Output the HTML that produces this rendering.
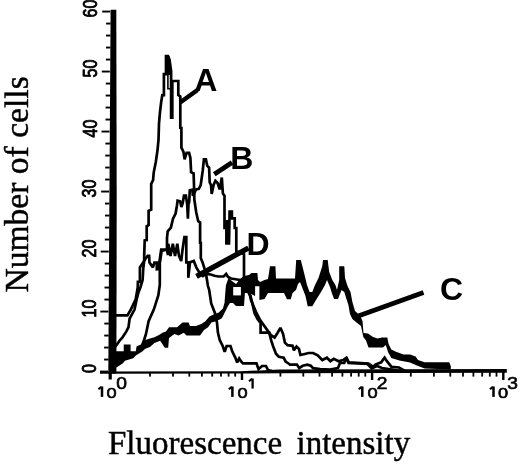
<!DOCTYPE html>
<html><head><meta charset="utf-8"><style>
html,body{margin:0;padding:0;background:#fff;}
svg{display:block;will-change:transform;}
</style></head><body>
<svg width="520" height="466" viewBox="0 0 520 466">
<polygon points="110.6,9.8 116.3,9.8 116.7,200 116.4,373.5 108.3,373.5" fill="#000"/>
<rect x="108.6" y="372" width="3.2" height="7.5" fill="#000"/>
<polygon points="100,371.6 240,371.3 280,369.6 506.8,368.9 506.8,372.8 280,373.2 240,373.5 100,373.7" fill="#000"/>
<rect x="100.0" y="370.6" width="8" height="1.9" fill="#000"/>
<rect x="104.1" y="358.6" width="4.5" height="1.9" fill="#000"/>
<rect x="104.1" y="346.6" width="4.5" height="1.9" fill="#000"/>
<rect x="104.2" y="334.6" width="4.5" height="1.9" fill="#000"/>
<rect x="104.3" y="322.6" width="4.5" height="1.9" fill="#000"/>
<rect x="100.4" y="310.6" width="8" height="1.9" fill="#000"/>
<rect x="104.4" y="298.6" width="4.5" height="1.9" fill="#000"/>
<rect x="104.5" y="286.6" width="4.5" height="1.9" fill="#000"/>
<rect x="104.6" y="274.6" width="4.5" height="1.9" fill="#000"/>
<rect x="104.7" y="262.6" width="4.5" height="1.9" fill="#000"/>
<rect x="100.7" y="250.6" width="8" height="1.9" fill="#000"/>
<rect x="104.8" y="238.6" width="4.5" height="1.9" fill="#000"/>
<rect x="104.9" y="226.6" width="4.5" height="1.9" fill="#000"/>
<rect x="105.0" y="214.6" width="4.5" height="1.9" fill="#000"/>
<rect x="105.0" y="202.6" width="4.5" height="1.9" fill="#000"/>
<rect x="101.1" y="190.6" width="8" height="1.9" fill="#000"/>
<rect x="105.2" y="178.6" width="4.5" height="1.9" fill="#000"/>
<rect x="105.2" y="166.6" width="4.5" height="1.9" fill="#000"/>
<rect x="105.3" y="154.6" width="4.5" height="1.9" fill="#000"/>
<rect x="105.4" y="142.6" width="4.5" height="1.9" fill="#000"/>
<rect x="101.5" y="130.6" width="8" height="1.9" fill="#000"/>
<rect x="105.5" y="118.6" width="4.5" height="1.9" fill="#000"/>
<rect x="105.6" y="106.6" width="4.5" height="1.9" fill="#000"/>
<rect x="105.7" y="94.6" width="4.5" height="1.9" fill="#000"/>
<rect x="105.8" y="82.6" width="4.5" height="1.9" fill="#000"/>
<rect x="101.8" y="70.6" width="8" height="1.9" fill="#000"/>
<rect x="105.9" y="58.6" width="4.5" height="1.9" fill="#000"/>
<rect x="106.0" y="46.6" width="4.5" height="1.9" fill="#000"/>
<rect x="106.0" y="34.6" width="4.5" height="1.9" fill="#000"/>
<rect x="106.1" y="22.6" width="4.5" height="1.9" fill="#000"/>
<rect x="102.2" y="10.6" width="8" height="1.9" fill="#000"/>
<rect x="149.1" y="372" width="1.8" height="4.6" fill="#000"/>
<rect x="172.1" y="372" width="1.8" height="4.6" fill="#000"/>
<rect x="188.4" y="372" width="1.8" height="4.6" fill="#000"/>
<rect x="201.0" y="372" width="1.8" height="4.6" fill="#000"/>
<rect x="211.3" y="372" width="1.8" height="4.6" fill="#000"/>
<rect x="220.1" y="372" width="1.8" height="4.6" fill="#000"/>
<rect x="227.7" y="372" width="1.8" height="4.6" fill="#000"/>
<rect x="234.3" y="372" width="1.8" height="4.6" fill="#000"/>
<rect x="279.5" y="372" width="1.8" height="4.6" fill="#000"/>
<rect x="302.4" y="372" width="1.8" height="4.6" fill="#000"/>
<rect x="318.6" y="372" width="1.8" height="4.6" fill="#000"/>
<rect x="331.2" y="372" width="1.8" height="4.6" fill="#000"/>
<rect x="341.5" y="372" width="1.8" height="4.6" fill="#000"/>
<rect x="350.2" y="372" width="1.8" height="4.6" fill="#000"/>
<rect x="357.8" y="372" width="1.8" height="4.6" fill="#000"/>
<rect x="364.4" y="372" width="1.8" height="4.6" fill="#000"/>
<rect x="409.9" y="372" width="1.8" height="4.6" fill="#000"/>
<rect x="433.0" y="372" width="1.8" height="4.6" fill="#000"/>
<rect x="449.4" y="372" width="1.8" height="4.6" fill="#000"/>
<rect x="462.1" y="372" width="1.8" height="4.6" fill="#000"/>
<rect x="472.5" y="372" width="1.8" height="4.6" fill="#000"/>
<rect x="481.3" y="372" width="1.8" height="4.6" fill="#000"/>
<rect x="488.9" y="372" width="1.8" height="4.6" fill="#000"/>
<rect x="495.6" y="372" width="1.8" height="4.6" fill="#000"/>
<rect x="240.8" y="372" width="2.4" height="8" fill="#000"/>
<rect x="370.9" y="372" width="2.4" height="8" fill="#000"/>
<rect x="502.1" y="372" width="2.4" height="8" fill="#000"/>
<polygon points="114.0,351.3 123.7,351.3 123.7,344.4 130.6,344.4 130.6,351.3 135.8,351.3 136.6,346.2 140.9,344.4 144.3,340.2 150.0,338.4 154.4,337.3 159.0,335.0 162.5,332.7 166.0,331.5 169.0,327.3 177.1,327.3 182.5,322.6 188.6,322.6 189.9,326.0 196.0,326.0 201.3,323.9 205.4,321.2 209.4,316.5 213.5,314.5 218.8,312.5 222.9,308.5 224.5,303.0 225.5,290.0 226.0,285.0 228.5,278.0 232.0,281.0 236.0,284.0 240.0,279.0 244.0,276.0 249.0,275.0 251.5,273.0 257.4,273.0 258.0,280.0 260.0,282.0 264.5,280.0 268.0,279.0 270.0,266.2 275.4,266.2 276.0,278.5 295.0,278.5 296.2,260.0 300.8,260.0 304.6,275.0 307.0,285.0 309.5,292.0 312.3,292.0 315.0,285.0 318.5,278.0 322.3,266.0 323.0,260.0 327.7,260.0 329.2,272.0 332.3,280.0 335.4,285.0 337.0,290.0 339.2,280.0 339.2,266.2 344.3,266.2 345.0,278.0 347.5,286.0 350.5,292.0 352.4,302.0 355.0,311.0 360.0,315.5 362.5,321.0 363.5,333.0 368.0,333.5 373.0,337.0 377.7,338.5 382.0,337.5 387.3,337.5 388.6,344.0 391.3,349.5 395.4,351.5 399.4,353.0 403.5,354.5 410.2,354.5 415.6,356.5 418.0,360.0 424.6,362.3 449.2,362.3 450.8,366.0 450.8,369.5 424.6,368.5 416.9,365.5 410.0,362.5 399.4,360.4 391.3,358.0 388.0,352.0 385.8,345.0 383.0,347.6 368.5,347.6 366.0,340.5 363.3,337.0 361.0,326.0 356.5,322.5 352.4,319.0 350.0,314.0 348.4,305.0 345.5,296.0 344.3,292.0 341.5,290.0 338.0,298.9 334.1,298.9 332.0,293.5 330.0,287.0 327.0,280.0 325.0,285.0 321.0,292.0 316.0,300.0 312.3,306.2 307.7,306.2 305.5,296.0 302.0,287.0 300.0,282.0 298.0,284.0 296.0,290.0 292.5,293.0 290.8,299.2 287.0,299.2 284.0,293.0 276.0,293.0 272.0,293.0 268.0,293.0 264.5,299.0 259.4,300.0 259.4,286.3 255.1,286.3 255.1,296.0 249.1,293.1 244.9,293.1 244.0,306.0 236.0,306.0 233.0,303.0 230.0,303.0 228.0,306.0 225.0,312.0 222.0,318.0 220.2,319.2 216.1,321.2 211.4,322.6 208.1,327.3 204.0,330.0 200.0,335.4 186.5,335.4 183.8,332.7 178.5,335.4 174.4,334.0 169.0,338.1 168.2,347.7 164.8,347.7 160.2,340.8 154.4,343.0 150.0,347.0 145.2,348.7 142.6,351.3 135.8,355.6 133.2,358.2 125.0,360.8 122.9,363.3 120.3,365.0 116.4,367.6 114.0,368.0" fill="#000"/>
<polygon points="233.2,287.0 240.9,287.0 240.9,295.4 233.2,295.4" fill="#fff"/>
<polyline points="115.0,347.0 118.0,343.0 120.0,340.0 122.1,337.9 124.2,334.7 126.4,331.4 128.5,327.2 129.6,318.6 134.5,309.6 136.5,300.0 138.3,292.9 140.5,287.0 142.6,280.0 143.3,268.0 144.2,260.6 144.2,256.0 144.7,240.3 146.7,240.0 146.7,226.3 148.6,225.0 148.6,210.9 151.2,209.6 151.2,183.9 153.1,180.0 153.7,172.6 155.8,162.0 157.5,150.3 158.5,140.0 159.0,123.5 160.0,112.0 161.2,102.0 162.3,95.2 163.9,95.2 163.9,74.2 166.0,74.2 166.0,56.1 168.0,56.1 169.5,59.7 171.1,71.0 171.1,117.7 172.3,117.7 172.3,81.0 178.3,81.0 178.3,95.0 180.3,96.5 180.3,127.8 181.4,128.0 181.4,147.7 183.4,151.6 184.6,159.3 186.6,152.9 189.1,152.9 190.4,158.0 191.1,172.2 193.6,173.4 194.3,194.0 194.3,199.3 196.2,212.2 198.2,221.2 200.1,222.5 200.1,242.9 200.8,243.0 200.8,258.3 202.5,262.2 205.8,272.9 207.9,285.8 209.2,290.0 211.2,303.5 215.0,313.2 217.0,322.8 217.9,332.5 219.8,340.2 222.7,346.0 224.7,351.8 226.6,346.0 230.5,346.0 232.4,351.8 235.3,357.6 237.2,362.4 239.2,358.5 241.1,361.4 243.0,363.4 256.5,363.4 258.5,369.2 262.0,366.0 266.0,366.0 268.0,370.0 272.0,371.0" fill="none" stroke="#000" stroke-width="2.7" stroke-linejoin="miter" stroke-miterlimit="2"/>
<polyline points="167.9,60.0 167.9,88.7 170.3,88.7" fill="none" stroke="#000" stroke-width="1.6" stroke-linejoin="miter" stroke-miterlimit="2"/>
<polygon points="165.8,56 169.4,56 170.4,62 171.8,75 165.8,75" fill="#000"/>
<polyline points="136.7,353.0 141.7,346.7 144.1,340.0 146.0,334.0 148.6,321.2 153.8,309.6 158.3,295.4 159.8,285.0 159.8,263.0 161.6,251.0 165.0,250.0 167.0,249.5 167.0,237.9 167.7,231.4 170.9,227.6 173.0,218.7 175.6,213.5 176.9,205.8 177.6,200.6 180.1,201.3 181.4,207.0 182.7,203.2 184.0,195.5 185.9,195.5 187.2,204.5 187.9,218.7 188.5,204.0 189.2,201.9 189.8,190.3 192.4,189.7 192.9,195.8 196.1,189.4 198.8,188.9 200.7,185.0 202.7,170.9 203.9,159.3 205.9,159.3 207.2,165.7 209.1,167.7 209.7,182.4 211.0,185.0 211.7,194.0 213.6,185.0 215.4,180.8 217.6,183.0 219.7,189.4 221.8,177.6 222.9,193.6 224.5,195.8 224.5,228.0 226.5,228.0 226.5,243.5 229.0,243.5 229.6,211.5 231.9,211.5 231.9,218.3 234.7,218.3 234.7,228.0 236.3,228.0 236.3,250.9 238.0,252.0 242.0,253.0 244.0,254.3 244.0,280.0 247.0,290.0 250.5,296.0 252.0,302.0 254.6,313.2 257.7,319.2 260.6,323.0 260.6,332.7 269.2,332.7 271.2,340.4 273.1,346.2 276.0,353.8 278.8,356.7 283.7,357.7 285.6,361.5 288.5,363.5 290.0,364.6 296.9,364.6 299.2,368.1 302.7,365.8 307.3,364.6 310.8,365.8 313.1,368.1 320.0,369.0 330.0,369.5 338.0,368.0 340.0,363.0 344.2,363.0 346.3,357.7 348.5,363.0 367.5,364.0 371.7,368.3 377.0,366.0 382.0,368.0 395.0,370.0 400.0,371.0" fill="none" stroke="#000" stroke-width="2.7" stroke-linejoin="miter" stroke-miterlimit="2"/>
<rect x="225.2" y="220" width="4.2" height="24" fill="#000"/>
<polyline points="115.0,315.4 127.4,315.4 130.6,310.0 135.7,299.3 137.7,287.7 137.9,281.9 139.9,281.9 139.9,267.4 143.5,262.0 144.2,260.6 147.6,255.8 149.1,255.8 149.5,262.6 152.9,267.4 154.4,262.6 156.8,262.6 156.8,269.3 159.2,269.0 159.2,263.5 161.2,249.5 166.8,249.5 168.0,255.0 168.3,243.7 170.5,255.9 172.8,243.7 175.0,255.9 177.3,243.7 179.0,256.0 181.2,261.0 182.5,250.0 184.4,237.2 186.3,237.2 186.3,262.3 188.3,262.3 188.3,277.8 190.0,262.2 193.8,260.9 196.3,267.3 199.0,272.0 203.0,276.0 206.2,273.9 210.7,274.5 214.6,275.8 218.5,276.5 223.6,276.5 226.2,274.0 228.0,277.0 231.0,278.5 240.0,280.0 246.0,285.0 249.5,293.0 251.0,300.0 253.5,306.0 255.8,311.5 259.6,319.2 270.7,334.9 274.6,337.5 277.5,333.0 280.4,327.8 283.0,333.6 284.9,342.6 287.5,345.2 292.6,345.8 293.9,350.3 296.5,346.5 299.0,349.0 300.4,355.0 303.8,354.2 308.5,353.0 313.1,353.0 317.7,355.4 322.3,360.0 326.9,357.7 330.4,361.2 333.8,358.8 338.5,361.2 343.1,360.0 346.5,357.7 348.8,362.3 368.5,363.5 373.1,366.9 375.4,364.6 381.2,362.3 384.6,357.7 386.9,361.2 391.5,366.9 399.0,367.5 405.0,371.0" fill="none" stroke="#000" stroke-width="2.7" stroke-linejoin="miter" stroke-miterlimit="2"/>
<line x1="180.1" y1="102.5" x2="197.5" y2="90" stroke="#000" stroke-width="4.6"/>
<line x1="214.3" y1="174.3" x2="232" y2="162.5" stroke="#000" stroke-width="4.8"/>
<line x1="196.5" y1="276.3" x2="248.5" y2="248" stroke="#000" stroke-width="5.3"/>
<line x1="356.9" y1="316.4" x2="423.5" y2="292.5" stroke="#000" stroke-width="4.8"/>
<text x="194.2" y="90.8" font-family="Liberation Sans, sans-serif" font-weight="bold" font-size="32">A</text>
<text x="230.2" y="168.6" font-family="Liberation Sans, sans-serif" font-weight="bold" font-size="32">B</text>
<text x="246.4" y="255.4" font-family="Liberation Sans, sans-serif" font-weight="bold" font-size="32">D</text>
<text x="440" y="299.5" font-family="Liberation Sans, sans-serif" font-weight="bold" font-size="32">C</text>
<text transform="translate(95.60222222222222,368.5) rotate(-90) scale(0.83,1)" text-anchor="middle" font-family="Liberation Sans, sans-serif" font-size="19.4" stroke="#000" stroke-width="0.85">0</text>
<text transform="translate(95.86888888888889,308.5) rotate(-90) scale(0.83,1)" text-anchor="middle" font-family="Liberation Sans, sans-serif" font-size="19.4" stroke="#000" stroke-width="0.85">10</text>
<text transform="translate(96.13555555555556,248.5) rotate(-90) scale(0.83,1)" text-anchor="middle" font-family="Liberation Sans, sans-serif" font-size="19.4" stroke="#000" stroke-width="0.85">20</text>
<text transform="translate(96.40222222222222,188.5) rotate(-90) scale(0.83,1)" text-anchor="middle" font-family="Liberation Sans, sans-serif" font-size="19.4" stroke="#000" stroke-width="0.85">30</text>
<text transform="translate(96.66888888888889,128.5) rotate(-90) scale(0.83,1)" text-anchor="middle" font-family="Liberation Sans, sans-serif" font-size="19.4" stroke="#000" stroke-width="0.85">40</text>
<text transform="translate(96.93555555555555,68.5) rotate(-90) scale(0.83,1)" text-anchor="middle" font-family="Liberation Sans, sans-serif" font-size="19.4" stroke="#000" stroke-width="0.85">50</text>
<text transform="translate(97.20222222222222,8.5) rotate(-90) scale(0.83,1)" text-anchor="middle" font-family="Liberation Sans, sans-serif" font-size="19.4" stroke="#000" stroke-width="0.85">60</text>
<rect x="100.75" y="386.5" width="2.5" height="10.4" fill="#000"/><line x1="98.40" y1="389.3" x2="101.40" y2="386.9" stroke="#000" stroke-width="2.1"/>
<text transform="translate(106.4,397.6) scale(1.2,1)" font-family="Liberation Sans, sans-serif" font-size="15.2" stroke="#000" stroke-width="0.6">0</text>
<text transform="translate(116.3,389.4) scale(1.2,1)" font-family="Liberation Sans, sans-serif" font-size="16" stroke="#000" stroke-width="0.6">0</text>
<rect x="231.15" y="386.5" width="2.5" height="10.4" fill="#000"/><line x1="228.80" y1="389.3" x2="231.80" y2="386.9" stroke="#000" stroke-width="2.1"/>
<text transform="translate(237.4,397.6) scale(1.2,1)" font-family="Liberation Sans, sans-serif" font-size="15.2" stroke="#000" stroke-width="0.6">0</text>
<rect x="251.45" y="378.5" width="2.3" height="10.1" fill="#000"/><line x1="249.00" y1="381.3" x2="252.00" y2="378.9" stroke="#000" stroke-width="2.1"/>
<rect x="361.05" y="386.5" width="2.5" height="10.4" fill="#000"/><line x1="358.70" y1="389.3" x2="361.70" y2="386.9" stroke="#000" stroke-width="2.1"/>
<text transform="translate(367.5,397.6) scale(1.2,1)" font-family="Liberation Sans, sans-serif" font-size="15.2" stroke="#000" stroke-width="0.6">0</text>
<text transform="translate(376.7,389.4) scale(1.2,1)" font-family="Liberation Sans, sans-serif" font-size="16" stroke="#000" stroke-width="0.6">2</text>
<rect x="492.25" y="386.5" width="2.5" height="10.4" fill="#000"/><line x1="489.90" y1="389.3" x2="492.90" y2="386.9" stroke="#000" stroke-width="2.1"/>
<text transform="translate(498.1,397.6) scale(1.2,1)" font-family="Liberation Sans, sans-serif" font-size="15.2" stroke="#000" stroke-width="0.6">0</text>
<text transform="translate(507.3,389.4) scale(1.2,1)" font-family="Liberation Sans, sans-serif" font-size="16" stroke="#000" stroke-width="0.6">3</text>
<text x="108" y="453.8" font-family="Liberation Serif, serif" font-size="33" stroke="#000" stroke-width="0.45">Fluorescence<tspan dx="14.4">intensity</tspan></text>
<text transform="translate(27.7,292.6) rotate(-90)" font-family="Liberation Serif, serif" font-size="33.6" stroke="#000" stroke-width="0.45">Number of cells</text>
</svg>
</body></html>
